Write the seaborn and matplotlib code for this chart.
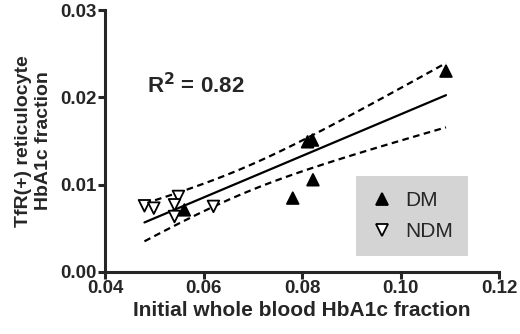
import numpy as np
import pandas as pd
import seaborn as sns
import matplotlib.pyplot as plt

# values
dm_x = [0.1092, 0.0811, 0.0821, 0.0822, 0.0781, 0.0561]
dm_y = [0.0230, 0.0149, 0.0151, 0.01055, 0.00845, 0.0071]
ndm_x = [0.0480, 0.0499, 0.0549, 0.0541, 0.0541, 0.0620]
ndm_y = [0.00757, 0.0073, 0.00864, 0.00768, 0.00634, 0.0075]
x_ticks = [0.04, 0.06, 0.08, 0.10, 0.12]
y_ticks = [0.00, 0.01, 0.02, 0.03]


def fit_with_band(x, y, t_crit=2.228):
    x = np.asarray(x)
    y = np.asarray(y)
    slope, intercept = np.polyfit(x, y, 1)
    n = len(x)
    resid = y - (slope * x + intercept)
    s = np.sqrt(np.sum(resid ** 2) / (n - 2))
    xs = np.linspace(x.min(), x.max(), 100)
    ys = slope * xs + intercept
    se = s * np.sqrt(1 / n + (xs - x.mean()) ** 2 / np.sum((x - x.mean()) ** 2))
    return xs, ys, ys - t_crit * se, ys + t_crit * se


def main():
    sns.set_style('ticks')
    plt.rcParams['font.family'] = ['Liberation Sans', 'DejaVu Sans']
    plt.rcParams['font.weight'] = 'bold'

    df = pd.DataFrame({
        'x': dm_x + ndm_x,
        'y': dm_y + ndm_y,
        'group': ['DM'] * len(dm_x) + ['NDM'] * len(ndm_x),
    })

    fig = plt.figure(figsize=(5.2, 3.34), dpi=100)
    ax = fig.add_axes([0.202, 0.186, 0.758, 0.784])

    xs, ys, lo, hi = fit_with_band(df['x'], df['y'])
    sns.lineplot(x=xs, y=ys, ax=ax, color='black', lw=1.6)
    sns.lineplot(x=xs, y=lo, ax=ax, color='black', lw=1.6, linestyle=(0, (3, 2)))
    sns.lineplot(x=xs, y=hi, ax=ax, color='black', lw=1.6, linestyle=(0, (3, 2)))

    sns.scatterplot(data=df, x='x', y='y', hue='group', style='group',
                    markers={'DM': '^', 'NDM': 'v'},
                    palette={'DM': 'black', 'NDM': 'white'},
                    edgecolor='black', linewidth=1.3, s=70, ax=ax, zorder=3)

    ax.set_xlim(0.04, 0.12)
    ax.set_ylim(0.0, 0.03)
    ax.set_xticks(x_ticks)
    ax.set_yticks(y_ticks)
    ax.set_xticklabels([f'{v:.2f}' for v in x_ticks], fontsize=13.5, fontweight='bold')
    ax.set_yticklabels([f'{v:.2f}' for v in y_ticks], fontsize=13.5, fontweight='bold')
    ax.set_xlabel('Initial whole blood HbA1c fraction', fontsize=15, fontweight='bold', labelpad=3)
    ax.set_ylabel('TfR(+) reticulocyte\nHbA1c fraction', fontsize=14, fontweight='bold', labelpad=6)
    sns.despine(ax=ax)
    for side in ['left', 'bottom']:
        ax.spines[side].set_linewidth(2.2)
    ax.tick_params(width=2.2, length=5, pad=1)

    ax.text(0.0485, 0.0205, r'R$^{\mathbf{2}}$ = 0.82', fontsize=16, fontweight='bold')

    leg = ax.legend(title=None, loc='lower right', bbox_to_anchor=(0.921, 0.061),
                    frameon=True, fancybox=False, fontsize=15, markerscale=1.0,
                    borderpad=0.7, labelspacing=0.6, handletextpad=0.6, borderaxespad=0,
                    handlelength=1.1)
    frame = leg.get_frame()
    frame.set_facecolor('#d4d4d4')
    frame.set_edgecolor('none')
    frame.set_alpha(1)
    for t in leg.get_texts():
        t.set_fontweight('normal')

    fig.savefig('out.png', dpi=100)
    plt.close(fig)


if __name__ == '__main__':
    main()
